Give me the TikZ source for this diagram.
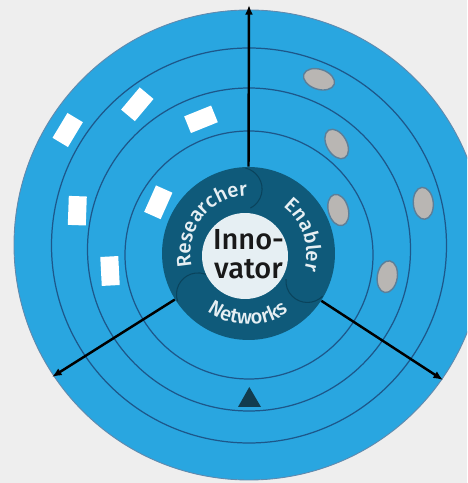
\documentclass[tikz,border=0pt]{standalone}
\usepackage{fontspec}
\setmainfont{Fira Sans}[UprightFont=* Medium]
\usetikzlibrary{arrows.meta,shapes.geometric,decorations.text}
\definecolor{bggray}{HTML}{EEEEEE}
\definecolor{ringblue}{HTML}{29A6E0}
\definecolor{ringline}{HTML}{1D578A}
\definecolor{hubteal}{HTML}{0F5A7A}
\definecolor{lobeline}{HTML}{0A435C}
\definecolor{corewhite}{HTML}{E6EFF3}
\definecolor{ovalgray}{HTML}{B9B6B3}
\definecolor{ovalrim}{HTML}{5C7F99}
\definecolor{markdark}{HTML}{123C4E}
\tikzset{
  card/.style={rectangle,fill=white,inner sep=0,minimum width=0.36cm,minimum height=0.58cm},
  oval/.style={ellipse,fill=ovalgray,draw=ovalrim,line width=0.8pt,inner sep=0,minimum width=0.64cm,minimum height=0.4cm},
  spoke/.style={line width=1.4pt,-{Latex[length=5.5pt,width=4.5pt]}},
  ringtext/.style={decorate,decoration={text along path,text align=center,
    text={|\color{corewhite}\fontsize{11.5}{13}\selectfont|#1}}}
}
\begin{document}
\begin{tikzpicture}[x=0.02cm,y=0.02cm]%rings
\useasboundingbox (0,0) rectangle (467,483);
\clip (0,0) rectangle (467,483);
\fill[bggray] (0,0) rectangle (467,483);
\draw[fill=ringblue,draw=ringline!70,line width=0.5pt] (249,238) circle (235);
\draw[ringline,line width=0.7pt] \foreach \y/\r in {237.5/197.5,233.5/161.5,228/124} {(249,\y) circle (\r)};
\foreach \i/\x/\y/\a in {1/67.7/353/-31,2/137.3/378.7/-40,3/201/363.7/112,4/77.3/272.3/-2,5/158.3/280.7/-24,6/110/212/3}
  \node[card,rotate=\a] (card\i) at (\x,\y) {};
\foreach \i/\x/\y/\a in {1/319/403.7/-18,2/336.7/339/-60,3/338.3/273/-75,4/423.3/279.7/-85,5/387.3/206.3/81}
  \node[oval,rotate=\a] (oval\i) at (\x,\y) {};
\fill[markdark] (249.3,96) -- (238,76) -- (261,76) -- cycle;
\node[circle,fill=hubteal,inner sep=0,minimum size=3.46cm] (hub) at (248.5,229.5) {};
\begin{scope}
\clip (hub.center) circle (86.5);
\foreach \t in {97,219,-25}
  \draw[lobeline,line width=0.6pt] (hub.center) ++(\t:65) ++({\t-20}:21.5) arc[start angle=\t-20,end angle=\t-160,radius=21.5];
\end{scope}
\node[circle,fill=corewhite,inner sep=0,minimum size=1.72cm] (core) at (245,227) {};
\node[align=center,font=\fontsize{16.5}{16.5}\selectfont,text=black!90] (innov) at (248.5,228.5) {Inno-\\vator};
\path[ringtext=Researcher] (hub.center) ++(202:58) arc[start angle=202,end angle=82,radius=58];
\path[ringtext=Enabler] (hub.center) ++(79:58) arc[start angle=79,end angle=-42,radius=58];
\path[ringtext=Networks] (hub.center) ++(209.5:71) arc[start angle=209.5,end angle=329.5,radius=71];
\coordinate (topend) at (249,478);
\coordinate (leftend) at (52,106);
\coordinate (rightend) at (443,103);
\draw[spoke] (hub.90) -- (topend);
\draw[spoke] (hub.212) -- (leftend);
\draw[spoke] (hub.-33) -- (rightend);
\end{tikzpicture}
\end{document}
